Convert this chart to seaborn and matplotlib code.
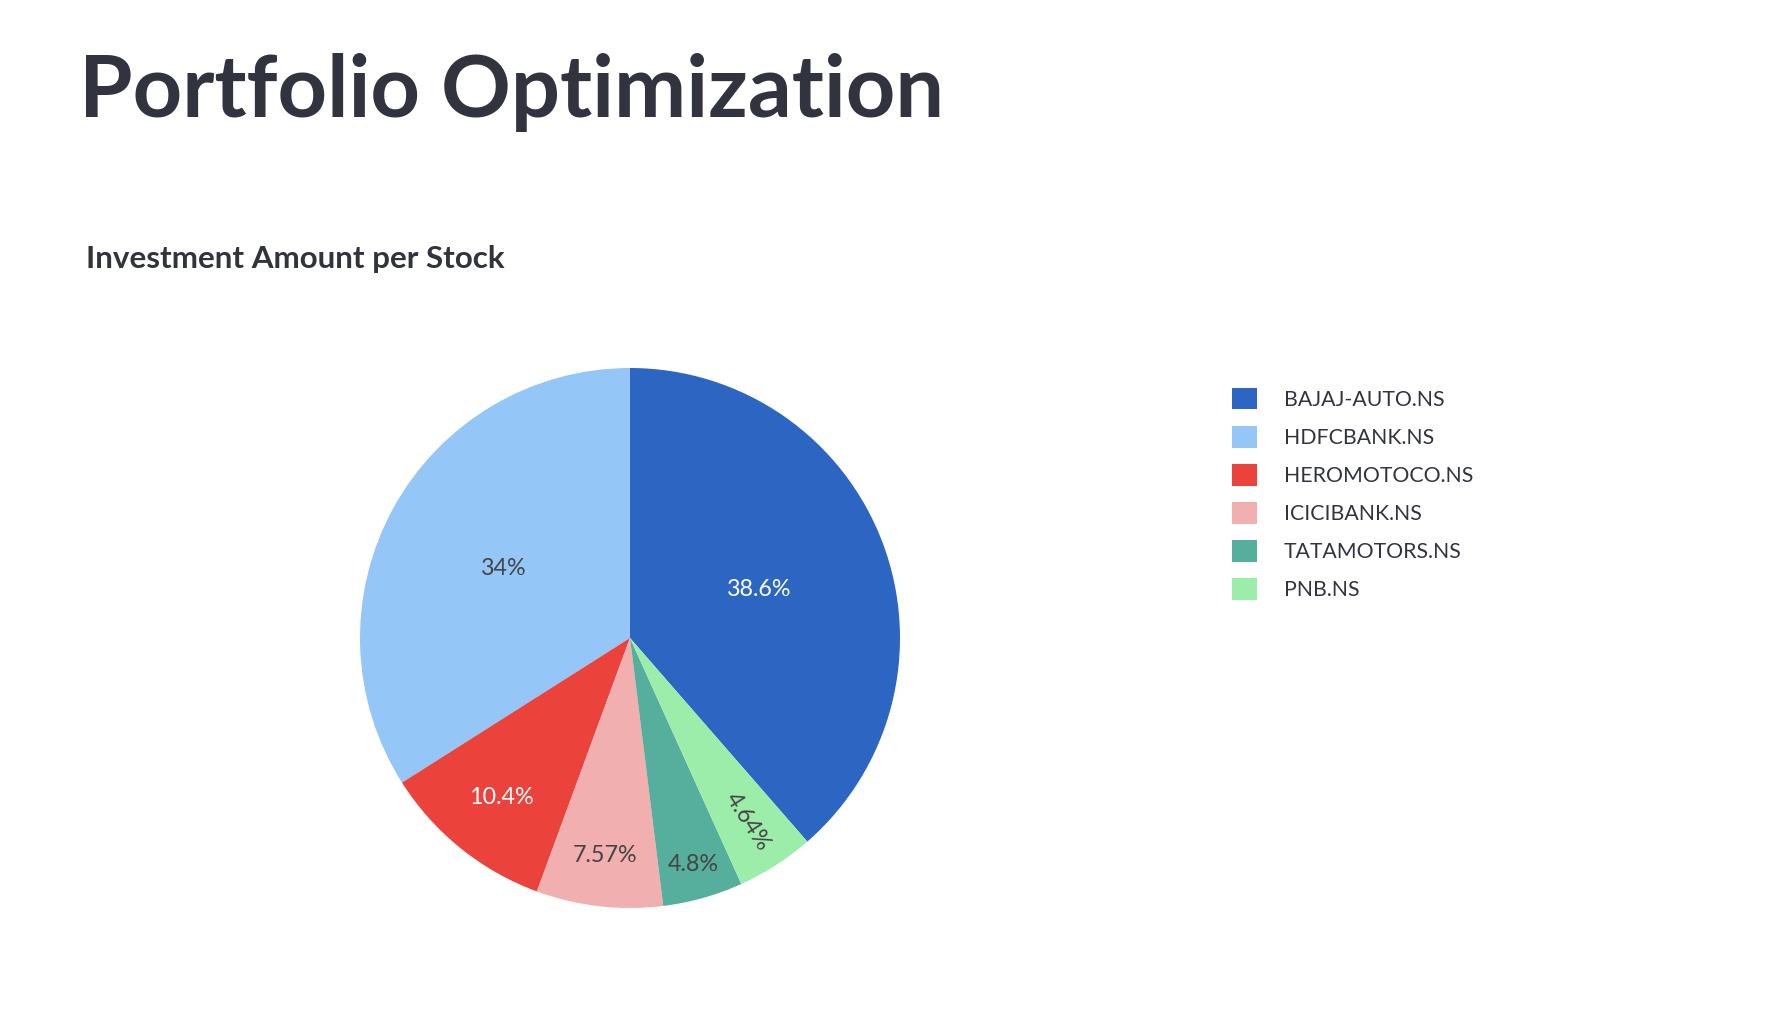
import numpy as np
import matplotlib
matplotlib.use("Agg")
import matplotlib.pyplot as plt
from matplotlib.patches import Patch
import seaborn as sns

# ---- data ----
stocks = ["BAJAJ-AUTO.NS", "HDFCBANK.NS", "HEROMOTOCO.NS", "ICICIBANK.NS", "TATAMOTORS.NS", "PNB.NS"]
shares = [38.6, 34.0, 10.4, 7.57, 4.8, 4.64]
pct_labels = ["38.6%", "34%", "10.4%", "7.57%", "4.8%", "4.64%"]
title = "Portfolio Optimization"
subtitle = "Investment Amount per Stock"

# ---- style ----
colors = ["#2C66C2", "#94C6F8", "#EB433B", "#F2AFAF", "#56AE9D", "#9CEDAA"]
label_colors = ["white", "#444444", "white", "#444444", "#444444", "#444444"]
label_radius = [0.51, 0.535, 0.76, 0.81, 0.87, 0.81]
label_radial = [False, False, False, False, False, True]
TEXT = "#31333F"
FONT = ["Lato", "DejaVu Sans"]

sns.set_theme(style="white")
plt.rcParams["font.family"] = FONT

W, H = 1780, 1032
fig = plt.figure(figsize=(W / 100, H / 100), dpi=100)
fig.patch.set_facecolor("white")

# pie axes: centre (630, 638) px, radius 270 px
cx, cy, R = 630, 638, 270
ax = fig.add_axes([(cx - R) / W, (H - cy - R) / H, 2 * R / W, 2 * R / H])
pal = sns.color_palette(colors)
start = 90 - 360 * shares[0] / sum(shares)
wedges, _ = ax.pie(shares, colors=pal, startangle=start, counterclock=True,
                   radius=1, wedgeprops=dict(linewidth=0))
ax.set_xlim(-1, 1)
ax.set_ylim(-1, 1)
ax.set_aspect("equal")
ax.axis("off")

for w, lab, col, rf, radial in zip(wedges, pct_labels, label_colors, label_radius, label_radial):
    mid = (w.theta1 + w.theta2) / 2
    mid = (mid + 180) % 360 - 180
    x = rf * np.cos(np.deg2rad(mid))
    y = rf * np.sin(np.deg2rad(mid))
    rot = 0
    if radial:
        rot = mid
        if rot > 90:
            rot -= 180
        elif rot < -90:
            rot += 180
    ax.text(x, y, lab, ha="center", va="center", color=col, fontsize=16.8,
            rotation=rot, rotation_mode="anchor")

# titles
t1 = fig.text(79 / W, 1 - 117 / H, title, fontsize=66, fontweight="bold",
              color=TEXT, ha="left", va="baseline")
t2 = fig.text(86 / W, 1 - 268 / H, subtitle, fontsize=20, fontweight="bold",
              color=TEXT, ha="left", va="baseline")

renderer = fig.canvas.get_renderer()
for t, target in [(t1, 867), (t2, 419)]:
    bb = t.get_window_extent(renderer)
    t.set_fontsize(t.get_fontsize() * target / bb.width)

# legend
fs = 15.3
fs_px = fs * 100 / 72
handles = [Patch(facecolor=c, edgecolor="none") for c in colors]
leg = fig.legend(handles, stocks, loc="upper left",
                 bbox_to_anchor=(1232 / W, 1 - 388 / H),
                 frameon=False, fontsize=fs, borderpad=0, borderaxespad=0,
                 handlelength=25 / fs_px, handleheight=25 / fs_px,
                 handletextpad=27 / fs_px, labelspacing=0.76)
for txt in leg.get_texts():
    txt.set_color(TEXT)

fig.savefig("out.png", dpi=100, facecolor="white")
